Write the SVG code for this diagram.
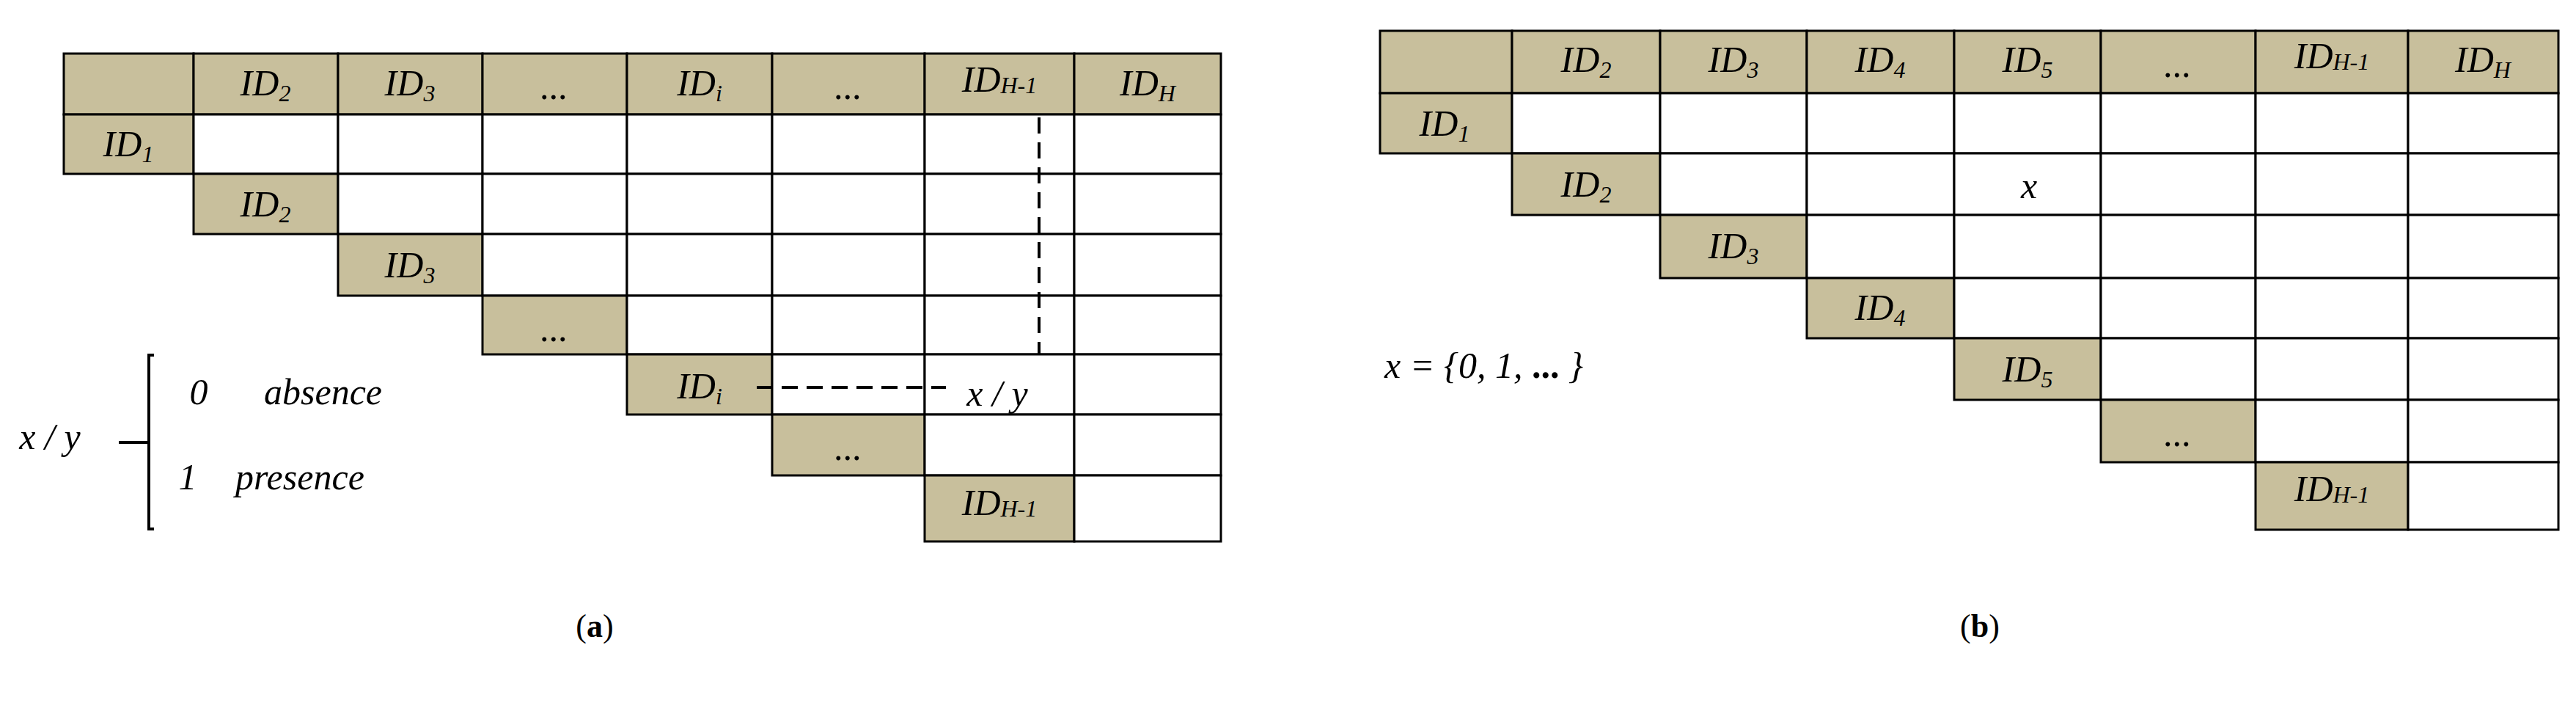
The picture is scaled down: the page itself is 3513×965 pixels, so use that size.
<svg xmlns="http://www.w3.org/2000/svg" width="3513" height="965" viewBox="0 0 3513 965">
<style>
.t{fill:#C8BF9C;stroke:#000;stroke-width:3}
.w{fill:#fff;stroke:#000;stroke-width:3}
.l{font-family:"Liberation Serif",serif;font-style:italic;font-size:50px;text-anchor:middle}
.s{font-size:32px}
.c{font-family:"Liberation Serif",serif;font-size:44px;text-anchor:middle}
.d{stroke:#000;stroke-width:4;stroke-dasharray:22,12;fill:none}
</style>
<rect width="3513" height="965" fill="#fff"/>
<g id="tableA">
<rect class="t" x="87" y="73" width="177" height="83"/>
<rect class="t" x="264" y="73" width="197" height="83"/><text class="l" x="362" y="130">ID<tspan class="s" dy="8">2</tspan></text>
<rect class="t" x="461" y="73" width="197" height="83"/><text class="l" x="559" y="130">ID<tspan class="s" dy="8">3</tspan></text>
<rect class="t" x="658" y="73" width="197" height="83"/><text class="l" x="756" y="135">...</text>
<rect class="t" x="855" y="73" width="198" height="83"/><text class="l" x="954" y="130">ID<tspan class="s" dy="8">i</tspan></text>
<rect class="t" x="1053" y="73" width="208" height="83"/><text class="l" x="1157" y="135">...</text>
<rect class="t" x="1261" y="73" width="204" height="83"/><text class="l" x="1363" y="125">ID<tspan class="s" dy="2">H-1</tspan></text>
<rect class="t" x="1465" y="73" width="200" height="83"/><text class="l" x="1565" y="130">ID<tspan class="s" dy="8">H</tspan></text>
<!-- rows -->
<rect class="t" x="87" y="156" width="177" height="81"/><text class="l" x="175" y="213">ID<tspan class="s" dy="8">1</tspan></text>
<rect class="w" x="264" y="156" width="197" height="81"/><rect class="w" x="461" y="156" width="197" height="81"/><rect class="w" x="658" y="156" width="197" height="81"/><rect class="w" x="855" y="156" width="198" height="81"/><rect class="w" x="1053" y="156" width="208" height="81"/><rect class="w" x="1261" y="156" width="204" height="81"/><rect class="w" x="1465" y="156" width="200" height="81"/>
<rect class="t" x="264" y="237" width="197" height="82"/><text class="l" x="362" y="295">ID<tspan class="s" dy="8">2</tspan></text>
<rect class="w" x="461" y="237" width="197" height="82"/><rect class="w" x="658" y="237" width="197" height="82"/><rect class="w" x="855" y="237" width="198" height="82"/><rect class="w" x="1053" y="237" width="208" height="82"/><rect class="w" x="1261" y="237" width="204" height="82"/><rect class="w" x="1465" y="237" width="200" height="82"/>
<rect class="t" x="461" y="319" width="197" height="84"/><text class="l" x="559" y="378">ID<tspan class="s" dy="8">3</tspan></text>
<rect class="w" x="658" y="319" width="197" height="84"/><rect class="w" x="855" y="319" width="198" height="84"/><rect class="w" x="1053" y="319" width="208" height="84"/><rect class="w" x="1261" y="319" width="204" height="84"/><rect class="w" x="1465" y="319" width="200" height="84"/>
<rect class="t" x="658" y="403" width="197" height="80"/><text class="l" x="756" y="465">...</text>
<rect class="w" x="855" y="403" width="198" height="80"/><rect class="w" x="1053" y="403" width="208" height="80"/><rect class="w" x="1261" y="403" width="204" height="80"/><rect class="w" x="1465" y="403" width="200" height="80"/>
<rect class="t" x="855" y="483" width="198" height="82"/><text class="l" x="954" y="543">ID<tspan class="s" dy="8">i</tspan></text>
<rect class="w" x="1053" y="483" width="208" height="82"/><rect class="w" x="1261" y="483" width="204" height="82"/><rect class="w" x="1465" y="483" width="200" height="82"/>
<rect class="t" x="1053" y="565" width="208" height="83"/><text class="l" x="1157" y="627">...</text>
<rect class="w" x="1261" y="565" width="204" height="83"/><rect class="w" x="1465" y="565" width="200" height="83"/>
<rect class="t" x="1261" y="648" width="204" height="90"/><text class="l" x="1363" y="702">ID<tspan class="s" dy="2">H-1</tspan></text>
<rect class="w" x="1465" y="648" width="200" height="90"/>
</g>
<g id="connectors">
<path class="d" d="M1417 160 V482"/>
<path class="d" d="M1032 528 H1290"/>
</g>
<g id="legendA">
<text class="l" x="1360" y="553">x / y</text>
<text class="l" x="68" y="612">x / y</text>
<path d="M210 484 H203 V721 H210 M203 603 H162" fill="none" stroke="#000" stroke-width="4"/>
<text class="l" x="271" y="551">0</text>
<text class="l" x="360" y="551" style="text-anchor:start">absence</text>
<text class="l" x="256" y="667">1</text>
<text class="l" x="321" y="667" style="text-anchor:start">presence</text>
</g>
<g id="tableB">
<rect class="t" x="1882" y="42" width="180" height="85"/>
<rect class="t" x="2062" y="42" width="202" height="85"/><text class="l" x="2163" y="98">ID<tspan class="s" dy="8">2</tspan></text>
<rect class="t" x="2264" y="42" width="200" height="85"/><text class="l" x="2364" y="98">ID<tspan class="s" dy="8">3</tspan></text>
<rect class="t" x="2464" y="42" width="201" height="85"/><text class="l" x="2564" y="98">ID<tspan class="s" dy="8">4</tspan></text>
<rect class="t" x="2665" y="42" width="200" height="85"/><text class="l" x="2765" y="98">ID<tspan class="s" dy="8">5</tspan></text>
<rect class="t" x="2865" y="42" width="211" height="85"/><text class="l" x="2970" y="105">...</text>
<rect class="t" x="3076" y="42" width="208" height="85"/><text class="l" x="3180" y="93">ID<tspan class="s" dy="2">H-1</tspan></text>
<rect class="t" x="3284" y="42" width="205" height="85"/><text class="l" x="3386" y="98">ID<tspan class="s" dy="8">H</tspan></text>
<rect class="t" x="1882" y="127" width="180" height="82"/><text class="l" x="1970" y="185">ID<tspan class="s" dy="8">1</tspan></text>
<rect class="w" x="2062" y="127" width="202" height="82"/><rect class="w" x="2264" y="127" width="200" height="82"/><rect class="w" x="2464" y="127" width="201" height="82"/><rect class="w" x="2665" y="127" width="200" height="82"/><rect class="w" x="2865" y="127" width="211" height="82"/><rect class="w" x="3076" y="127" width="208" height="82"/><rect class="w" x="3284" y="127" width="205" height="82"/>
<rect class="t" x="2062" y="209" width="202" height="84"/><text class="l" x="2163" y="268">ID<tspan class="s" dy="8">2</tspan></text>
<rect class="w" x="2264" y="209" width="200" height="84"/><rect class="w" x="2464" y="209" width="201" height="84"/><rect class="w" x="2665" y="209" width="200" height="84"/><rect class="w" x="2865" y="209" width="211" height="84"/><rect class="w" x="3076" y="209" width="208" height="84"/><rect class="w" x="3284" y="209" width="205" height="84"/>
<text class="l" x="2767" y="270">x</text>
<rect class="t" x="2264" y="293" width="200" height="86"/><text class="l" x="2364" y="352">ID<tspan class="s" dy="8">3</tspan></text>
<rect class="w" x="2464" y="293" width="201" height="86"/><rect class="w" x="2665" y="293" width="200" height="86"/><rect class="w" x="2865" y="293" width="211" height="86"/><rect class="w" x="3076" y="293" width="208" height="86"/><rect class="w" x="3284" y="293" width="205" height="86"/>
<rect class="t" x="2464" y="379" width="201" height="82"/><text class="l" x="2564" y="436">ID<tspan class="s" dy="8">4</tspan></text>
<rect class="w" x="2665" y="379" width="200" height="82"/><rect class="w" x="2865" y="379" width="211" height="82"/><rect class="w" x="3076" y="379" width="208" height="82"/><rect class="w" x="3284" y="379" width="205" height="82"/>
<rect class="t" x="2665" y="461" width="200" height="84"/><text class="l" x="2765" y="520">ID<tspan class="s" dy="8">5</tspan></text>
<rect class="w" x="2865" y="461" width="211" height="84"/><rect class="w" x="3076" y="461" width="208" height="84"/><rect class="w" x="3284" y="461" width="205" height="84"/>
<rect class="t" x="2865" y="545" width="211" height="85"/><text class="l" x="2970" y="608">...</text>
<rect class="w" x="3076" y="545" width="208" height="85"/><rect class="w" x="3284" y="545" width="205" height="85"/>
<rect class="t" x="3076" y="630" width="208" height="92"/><text class="l" x="3180" y="683">ID<tspan class="s" dy="2">H-1</tspan></text>
<rect class="w" x="3284" y="630" width="205" height="92"/>
</g>
<g id="legendB">
<text class="l" x="1888" y="515" style="text-anchor:start">x =  {0, 1, <tspan style="font-style:normal;font-weight:bold">...</tspan> }</text>
</g>
<g id="captions">
<text class="c" x="811" y="868">(<tspan font-weight="bold">a</tspan>)</text>
<text class="c" x="2700" y="868">(<tspan font-weight="bold">b</tspan>)</text>
</g>
</svg>
